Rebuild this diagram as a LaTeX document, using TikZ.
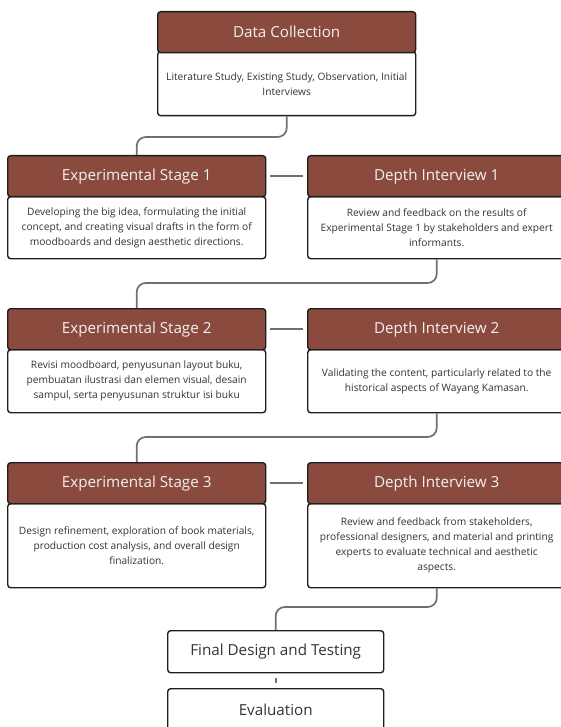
\documentclass[tikz,border=0pt]{standalone}
\usepackage{fontspec}
\setmainfont{Open Sans}
\definecolor{hdrfill}{HTML}{8B4A3E}
\definecolor{edge}{HTML}{1E1E1E}
\definecolor{conncol}{HTML}{707070}
\definecolor{bodytxt}{HTML}{333333}
\definecolor{hdrtxt}{HTML}{F2F2F2}
\tikzset{
  hdr/.style={draw=edge, line width=1.4pt, fill=hdrfill, rounded corners=3pt, anchor=north west,
    text=hdrtxt, font=\fontsize{15.2}{17}\selectfont, inner sep=0pt},
  bodybox/.style={draw=edge, line width=1.4pt, fill=white, rounded corners=3pt, anchor=north west,
    text=bodytxt, font=\fontsize{10.2}{15}\selectfont, align=center, inner sep=0pt},
  plainbox/.style={draw=edge, line width=1.4pt, fill=white, rounded corners=3pt, anchor=north west,
    text=bodytxt, font=\fontsize{15.2}{17}\selectfont, inner sep=0pt},
  conn/.style={draw=conncol, line width=1.7pt, rounded corners=9pt},
  link/.style={draw=conncol, line width=1.7pt}
}
\begin{document}
\begin{tikzpicture}[x=1pt, y=-1pt]
\useasboundingbox (0,0) rectangle (561,727);

% Data collection
\node[bodybox, minimum width=258, minimum height=64] (dcb) at (157,51) {Literature Study, Existing Study, Observation, Initial\\Interviews};
\node[hdr, minimum width=258, minimum height=41] (dch) at (157,11) {Data Collection};

% Row 1
\node[bodybox, minimum width=258, minimum height=62] (es1b) at (7,196) {Developing the big idea, formulating the initial\\concept, and creating visual drafts in the form of\\moodboards and design aesthetic directions.};
\node[hdr, minimum width=258, minimum height=41] (es1h) at (7,155) {Experimental Stage 1};
\node[bodybox, minimum width=258, minimum height=62] (di1b) at (307,196) {Review and feedback on the results of\\Experimental Stage 1 by stakeholders and expert\\informants.};
\node[hdr, minimum width=258, minimum height=41] (di1h) at (307,155) {Depth Interview 1};

% Row 2
\node[bodybox, minimum width=258, minimum height=63] (es2b) at (7,349) {Revisi moodboard, penyusunan layout buku,\\pembuatan ilustrasi dan elemen visual, desain\\sampul, serta penyusunan struktur isi buku};
\node[hdr, minimum width=258, minimum height=41] (es2h) at (7,308) {Experimental Stage 2};
\node[bodybox, minimum width=258, minimum height=63] (di2b) at (307,349) {Validating the content, particularly related to the\\historical aspects of Wayang Kamasan.};
\node[hdr, minimum width=258, minimum height=41] (di2h) at (307,308) {Depth Interview 2};

% Row 3
\node[bodybox, minimum width=258, minimum height=84] (es3b) at (7,503) {Design refinement, exploration of book materials,\\production cost analysis, and overall design\\finalization.};
\node[hdr, minimum width=258, minimum height=41] (es3h) at (7,462) {Experimental Stage 3};
\node[bodybox, minimum width=258, minimum height=84] (di3b) at (307,503) {Review and feedback from stakeholders,\\professional designers, and material and printing\\experts to evaluate technical and aesthetic\\aspects.};
\node[hdr, minimum width=258, minimum height=41] (di3h) at (307,462) {Depth Interview 3};

% Final
\node[plainbox, minimum width=216, minimum height=42] (fin) at (167,630) {Final Design and Testing};
\node[plainbox, minimum width=216, minimum height=42] (ev) at (167,688) {Evaluation};

% Connectors
\draw[conn] (dcb.south) -- (dcb.south |- 0,137) -- (es1h.north |- 0,137) -- (es1h.north);
\draw[link] ([xshift=4pt]es1h.east) -- ([xshift=-4pt]di1h.west);
\draw[conn] (di1b.south) -- (di1b.south |- 0,283) -- (es2h.north |- 0,283) -- (es2h.north);
\draw[link] ([xshift=4pt]es2h.east) -- ([xshift=-4pt]di2h.west);
\draw[conn] (di2b.south) -- (di2b.south |- 0,437) -- (es3h.north |- 0,437) -- (es3h.north);
\draw[link] ([xshift=4pt]es3h.east) -- ([xshift=-4pt]di3h.west);
\draw[conn] (di3b.south) -- (di3b.south |- 0,607) -- (fin.north |- 0,607) -- (fin.north);
\draw[link] ([yshift=-5pt]fin.south) -- ([yshift=5pt]ev.north);
\end{tikzpicture}
\end{document}
